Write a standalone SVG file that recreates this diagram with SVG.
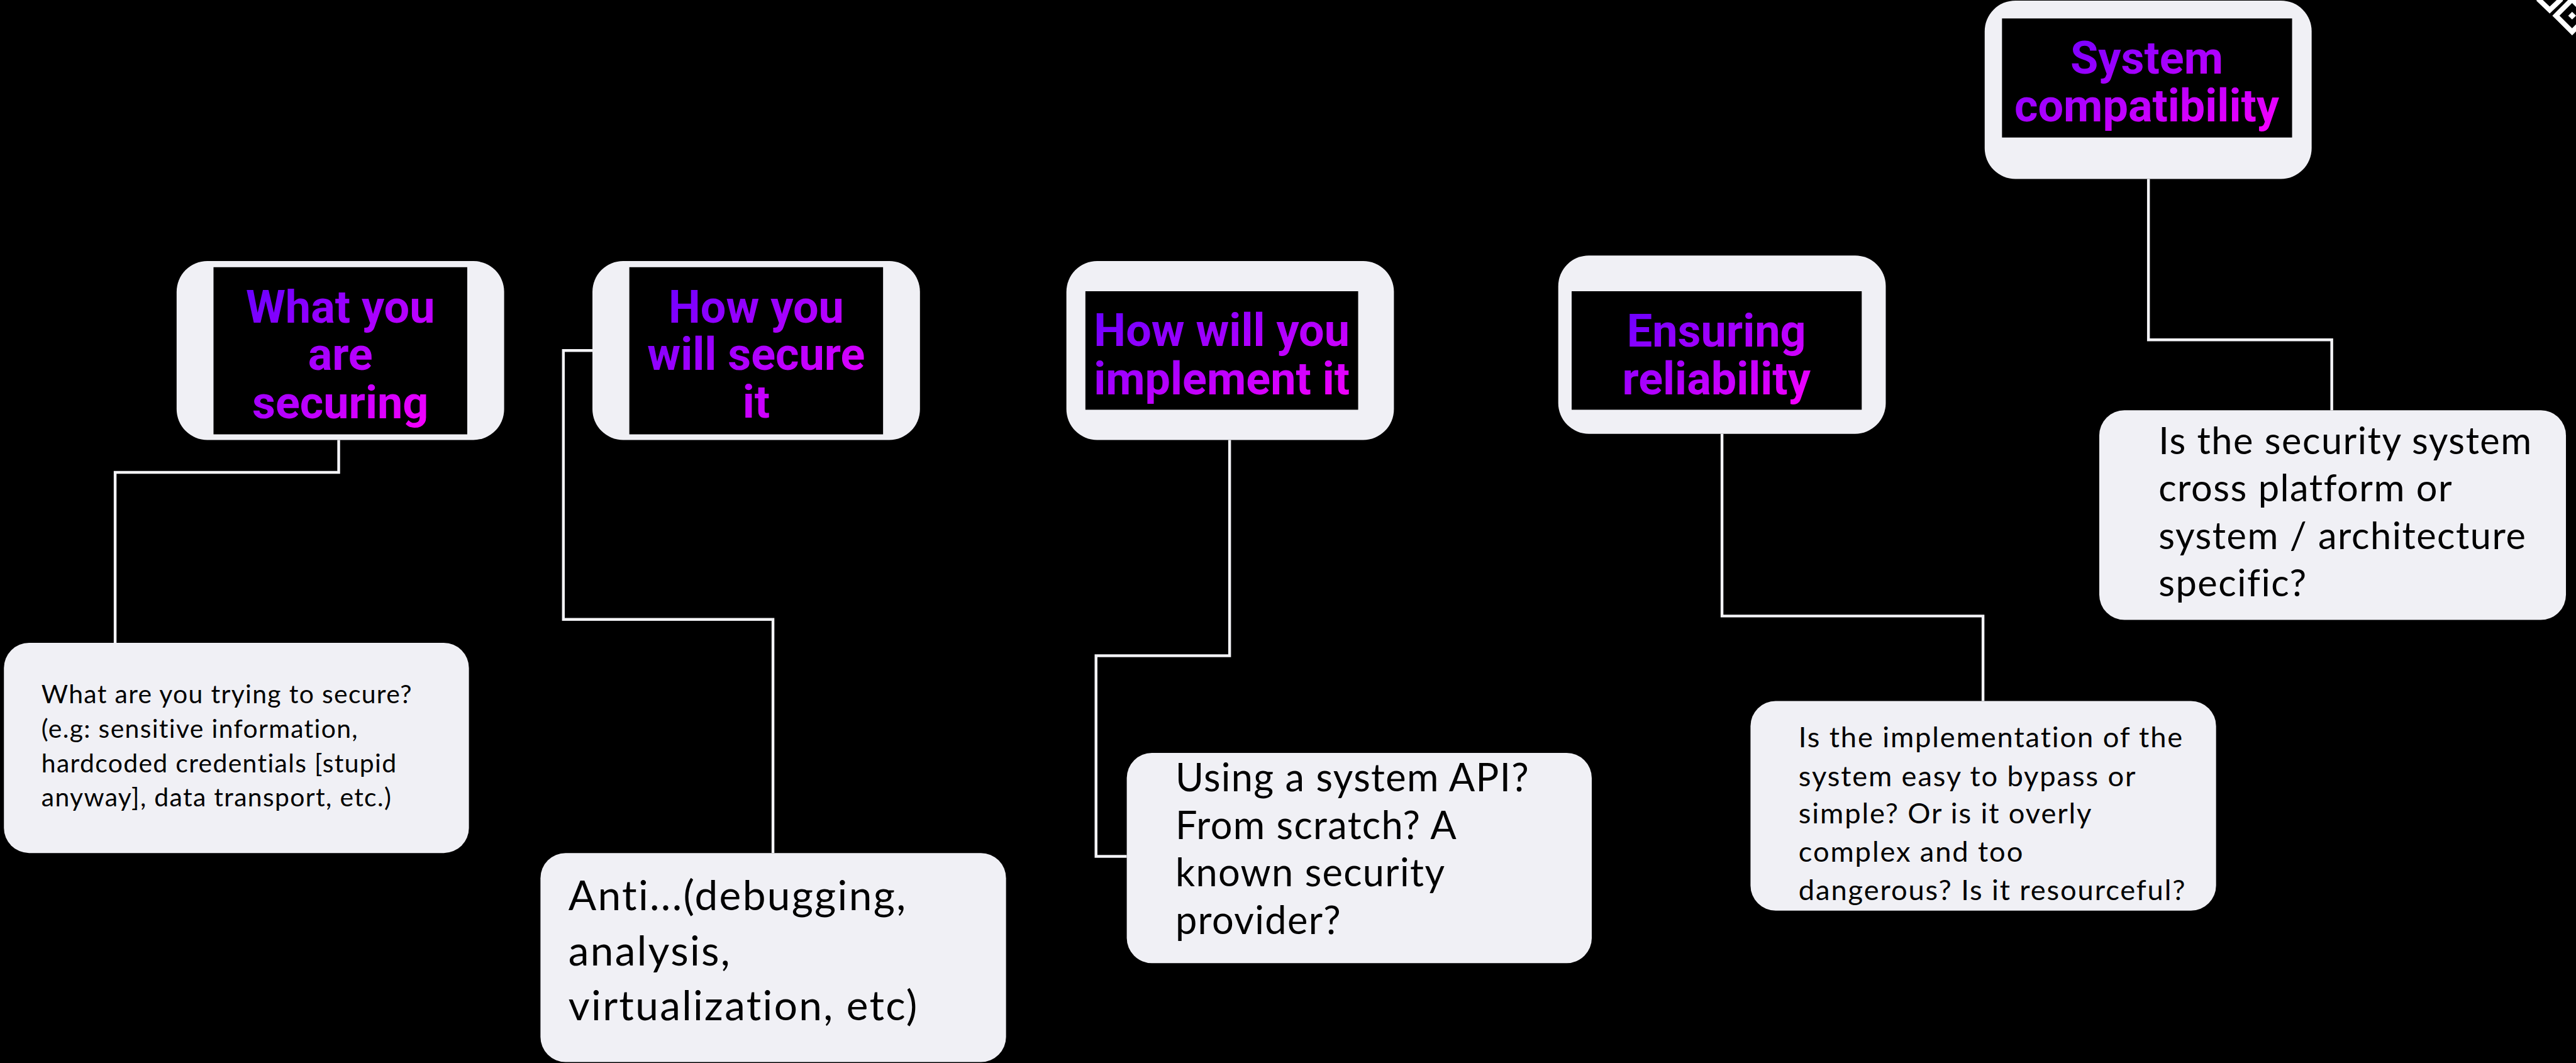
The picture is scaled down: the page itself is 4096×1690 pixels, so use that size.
<svg xmlns="http://www.w3.org/2000/svg" width="4096" height="1690" viewBox="0 0 4096 1690">
<defs>
<linearGradient id="grad" x1="0" y1="0" x2="1" y2="1">
<stop offset="0" stop-color="#6400ff"/>
<stop offset="1" stop-color="#fa00ff"/>
</linearGradient>
<style>
.card{fill:#f0f0f5}
.inner{fill:#000}
.h{font-family:Roboto,"Liberation Sans",sans-serif;font-weight:700;font-size:81px;text-anchor:middle;fill:url(#grad)}
.b{font-family:Lato,"Open Sans",sans-serif;fill:#000}
.s1{font-size:46px;letter-spacing:1.5px}
.s4{font-size:51px;letter-spacing:2.1px}
.m{font-size:67px;letter-spacing:1.7px}
.l{font-size:74px;letter-spacing:2.6px}
.u{font-size:69px;letter-spacing:1.5px}
.conn{fill:none;stroke:#f4f4f8;stroke-width:5}
.icon{fill:none;stroke:#ffffff;stroke-width:9}
</style>
</defs>
<rect width="4096" height="1690" fill="#000"/>
<g transform="scale(0.8887)">
<g id="connectors">
<path class="conn" d="M606,787 V845 H206 V1150"/>
<path class="conn" d="M1060,627 H1008 V1108 H1383 V1526"/>
<path class="conn" d="M2200,787 V1173 H1961 V1532 H2016"/>
<path class="conn" d="M3081,776 V1102 H3548 V1254"/>
<path class="conn" d="M3844,320 V608 H4172 V734"/>
</g>
<g id="node-what">
<rect class="card" x="316" y="467" width="586" height="320" rx="55"/>
<rect class="inner" x="382" y="478" width="454" height="299"/>
<text class="h" x="609"><tspan x="609" y="577">What you</tspan><tspan x="609" y="662">are</tspan><tspan x="609" y="748">securing</tspan></text>
</g>
<g id="node-how-secure">
<rect class="card" x="1060" y="467" width="586" height="320" rx="55"/>
<rect class="inner" x="1126" y="478" width="454" height="299"/>
<text class="h" x="1353"><tspan x="1353" y="577">How you</tspan><tspan x="1353" y="662">will secure</tspan><tspan x="1353" y="747">it</tspan></text>
</g>
<g id="node-implement">
<rect class="card" x="1908" y="467" width="586" height="320" rx="55"/>
<rect class="inner" x="1942" y="521" width="488" height="212"/>
<text class="h" x="2186"><tspan x="2186" y="619">How will you</tspan><tspan x="2186" y="705">implement it</tspan></text>
</g>
<g id="node-reliability">
<rect class="card" x="2788" y="457" width="586" height="319" rx="55"/>
<rect class="inner" x="2812" y="521" width="519" height="212"/>
<text class="h" x="3071"><tspan x="3071" y="620">Ensuring</tspan><tspan x="3071" y="705">reliability</tspan></text>
</g>
<g id="node-compat">
<rect class="card" x="3551" y="1" width="585" height="319" rx="55"/>
<rect class="inner" x="3582" y="33" width="519" height="213"/>
<text class="h" x="3841"><tspan x="3841" y="132">System</tspan><tspan x="3841" y="217">compatibility</tspan></text>
</g>
<g id="box-what">
<rect class="card" x="7" y="1150" width="832" height="376" rx="45"/>
<text class="b s1"><tspan x="74" y="1258">What are you trying to secure?</tspan><tspan x="74" y="1320">(e.g: sensitive information,</tspan><tspan x="74" y="1382">hardcoded credentials [stupid</tspan><tspan x="74" y="1442">anyway], data transport, etc.)</tspan></text>
</g>
<g id="box-anti">
<rect class="card" x="967" y="1526" width="833" height="374" rx="45"/>
<text class="b l"><tspan x="1017" y="1628">Anti...(debugging,</tspan><tspan x="1017" y="1727">analysis,</tspan><tspan x="1017" y="1825">virtualization, etc)</tspan></text>
</g>
<g id="box-using">
<rect class="card" x="2016" y="1347" width="832" height="376" rx="45"/>
<text class="b u"><tspan x="2103" y="1416">Using a system API?</tspan><tspan x="2103" y="1501">From scratch? A</tspan><tspan x="2103" y="1586">known security</tspan><tspan x="2103" y="1671">provider?</tspan></text>
</g>
<g id="box-reliability">
<rect class="card" x="3132" y="1254" width="833" height="375" rx="45"/>
<text class="b s4"><tspan x="3218" y="1337">Is the implementation of the</tspan><tspan x="3218" y="1407">system easy to bypass or</tspan><tspan x="3218" y="1473">simple? Or is it overly</tspan><tspan x="3218" y="1542">complex and too</tspan><tspan x="3218" y="1610">dangerous? Is it resourceful?</tspan></text>
</g>
<g id="box-compat">
<rect class="card" x="3756" y="734" width="835" height="375" rx="45"/>
<text class="b m"><tspan x="3862" y="812">Is the security system</tspan><tspan x="3862" y="897">cross platform or</tspan><tspan x="3862" y="982">system / architecture</tspan><tspan x="3862" y="1067">specific?</tspan></text>
</g>
<g id="corner-icon">
<polyline class="icon" points="4541,-2 4562,18 4583,-2"/>
<polygon class="icon" points="4602,-1 4573,28 4602,57 4631,28"/>
<polygon points="4602,21 4609,28 4602,35 4595,28" fill="#fff"/>
</g>
</g>
</svg>
